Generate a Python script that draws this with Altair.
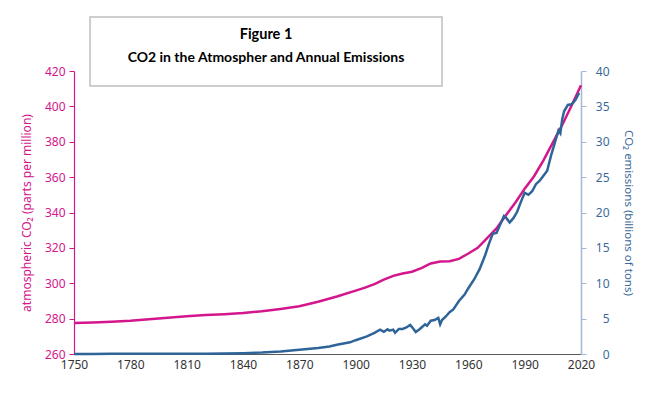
import altair as alt
import pandas as pd

# Atmospheric CO2 (ppm)
co2_years = [1750, 1760, 1770, 1780, 1790, 1800, 1810, 1820, 1830, 1840, 1850, 1860,
             1870, 1880, 1890, 1900, 1905, 1910, 1915, 1920, 1925, 1930, 1935, 1940,
             1945, 1950, 1955, 1960, 1965, 1970, 1975, 1980, 1985, 1990, 1995, 2000,
             2005, 2010, 2015, 2020]
co2_ppm = [277.5, 277.8, 278.3, 278.8, 279.6, 280.5, 281.3, 282.0, 282.5, 283.2, 284.2, 285.5,
           287.0, 289.5, 292.5, 295.8, 297.5, 299.5, 302.0, 304.2, 305.5, 306.5, 308.5, 311.2,
           312.3, 312.5, 313.8, 316.8, 320.0, 325.5, 331.0, 338.5, 345.5, 353.5, 360.5, 369.5,
           379.5, 389.5, 400.5, 412.0]

# Annual CO2 emissions (billions of tons)
em_years = [1750, 1760, 1770, 1780, 1790, 1800, 1810, 1820, 1830, 1840, 1850, 1860, 1870,
            1880, 1886, 1890, 1897, 1900, 1906, 1910, 1913, 1915, 1917, 1918, 1920, 1921,
            1923, 1925, 1927, 1929, 1930, 1932, 1934, 1937, 1938, 1940, 1942, 1944, 1945,
            1946, 1948, 1950, 1952, 1955, 1958, 1960, 1963, 1966, 1969, 1971, 1973, 1975,
            1977, 1979, 1980, 1982, 1984, 1986, 1988, 1990, 1992, 1994, 1996, 1998, 2000,
            2002, 2004, 2006, 2008, 2009, 2010, 2011, 2013, 2015, 2017, 2019]
em_values = [0.01, 0.01, 0.02, 0.02, 0.03, 0.03, 0.04, 0.05, 0.08, 0.12, 0.2, 0.35, 0.6,
             0.85, 1.05, 1.3, 1.65, 1.95, 2.5, 3.0, 3.45, 3.15, 3.5, 3.3, 3.45, 3.0,
             3.55, 3.55, 3.75, 4.1, 3.8, 3.1, 3.5, 4.2, 4.0, 4.7, 4.8, 5.1, 4.2,
             4.8, 5.3, 5.9, 6.3, 7.5, 8.4, 9.3, 10.5, 12.0, 14.0, 15.6, 17.0, 17.1,
             18.3, 19.5, 19.3, 18.6, 19.2, 20.1, 21.5, 22.8, 22.5, 23.0, 24.0, 24.5, 25.2,
             25.9, 28.0, 29.8, 31.6, 31.2, 33.2, 34.3, 35.2, 35.3, 35.9, 36.9]

x_ticks = list(range(1750, 2021, 30))
title_lines = ["Figure 1", "CO2 in the Atmospher and Annual Emissions"]

PINK = "#d4168c"
BLUE = "#2f6498"
BLUE_LBL = "#3b6a9a"
BLUE_AX = "#a3b9d2"
FONT = "Noto Sans"

co2_df = pd.DataFrame({"year": co2_years, "ppm": co2_ppm})
em_df = pd.DataFrame({"year": em_years, "em": em_values})

x_enc = alt.X("year:Q",
              scale=alt.Scale(domain=[1750, 2020], nice=False, zero=False),
              axis=alt.Axis(values=x_ticks, format="d", title=None, ticks=False,
                            labelFlush=False,
                            domainColor="#595959", domainWidth=1.2,
                            labelColor="#333333", labelFont=FONT, labelFontSize=12,
                            labelPadding=5, grid=False))

co2_line = alt.Chart(co2_df).mark_line(color=PINK, strokeWidth=2.5).encode(
    x=x_enc,
    y=alt.Y("ppm:Q",
            scale=alt.Scale(domain=[260, 420], nice=False, zero=False),
            axis=alt.Axis(orient="left", values=list(range(260, 421, 20)),
                          title="atmospheric CO\u2082  (parts per million)",
                          titleColor=PINK, titleFont=FONT, titleFontSize=12,
                          titleFontWeight="normal", titlePadding=11,
                          labelColor=PINK, labelFont=FONT, labelFontSize=12,
                          labelPadding=4, tickSize=5, tickColor=PINK,
                          domainColor=PINK, domainWidth=1.2, grid=False))
)

em_line = alt.Chart(em_df).mark_line(color=BLUE, strokeWidth=2.5).encode(
    x=x_enc,
    y=alt.Y("em:Q",
            scale=alt.Scale(domain=[0, 40], nice=False),
            axis=alt.Axis(orient="right", values=list(range(0, 41, 5)),
                          title="CO\u2082 emissions  (billions of tons)",
                          titleColor=BLUE_LBL, titleFont=FONT, titleFontSize=11.5,
                          titleFontWeight="normal", titlePadding=13,
                          labelColor=BLUE_LBL, labelFont=FONT, labelFontSize=12,
                          labelAlign="right", labelPadding=23,
                          tickSize=5, tickColor=BLUE_AX,
                          domainColor=BLUE_AX, domainWidth=1.5, grid=False))
)

box = alt.Chart(pd.DataFrame({"k": [0]})).mark_rect(
    fill="white", stroke="#bfbfbf", strokeWidth=1.5
).encode(x=alt.value(16), x2=alt.value(368), y=alt.value(-54), y2=alt.value(15))

t1 = alt.Chart(pd.DataFrame({"t": [title_lines[0]]})).mark_text(
    font="Lato", fontSize=14.5, fontWeight="bold", color="black", align="center", baseline="middle"
).encode(text="t:N", x=alt.value(192), y=alt.value(-36))

t2 = alt.Chart(pd.DataFrame({"t": [title_lines[1]]})).mark_text(
    font="Lato", fontSize=14, fontWeight="bold", color="black", align="center", baseline="middle"
).encode(text="t:N", x=alt.value(192), y=alt.value(-13))

chart = alt.layer(co2_line, em_line, box, t1, t2).resolve_scale(y="independent").properties(
    width=507, height=283,
    autosize="none",
    padding={"left": 66, "top": 63, "right": 64, "bottom": 30},
).configure_view(stroke=None)

chart.save("out.html", embed_options={"renderer": "svg", "actions": False})
